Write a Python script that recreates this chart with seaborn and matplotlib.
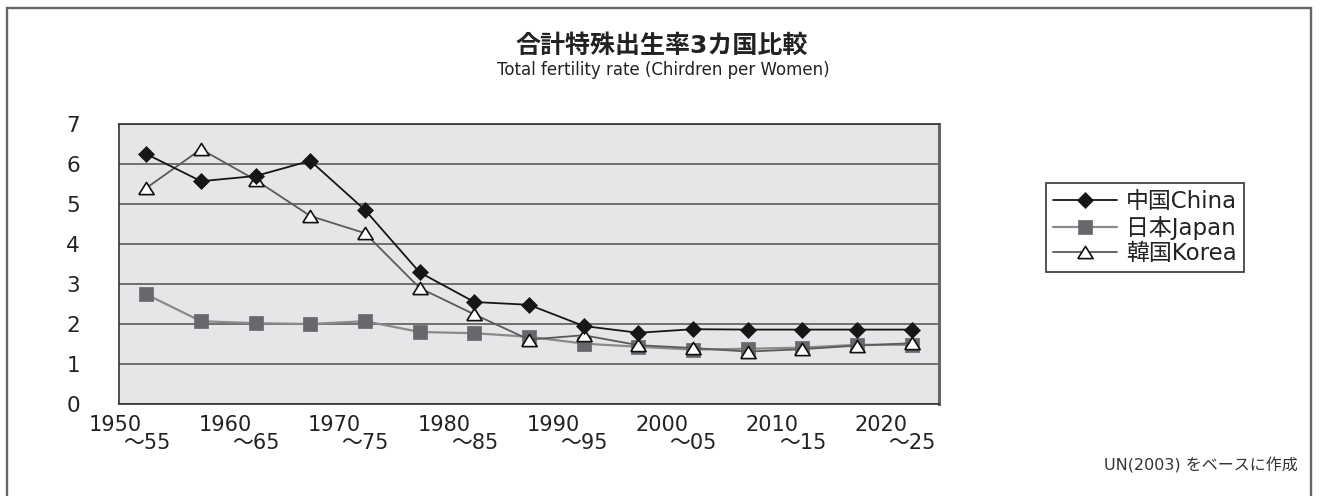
import matplotlib
matplotlib.use("Agg")
import matplotlib.pyplot as plt
import matplotlib.transforms as mtransforms
from matplotlib.patches import Rectangle
import numpy as np
import pandas as pd
import seaborn as sns

# Five-year periods (start year) and total fertility rate per period
period_start = [1950, 1955, 1960, 1965, 1970, 1975, 1980, 1985,
                1990, 1995, 2000, 2005, 2010, 2015, 2020]
china = [6.25, 5.57, 5.70, 6.08, 4.85, 3.29, 2.55, 2.48,
         1.95, 1.78, 1.87, 1.86, 1.86, 1.86, 1.86]
japan = [2.74, 2.07, 2.02, 2.00, 2.07, 1.80, 1.77, 1.68,
         1.51, 1.43, 1.36, 1.38, 1.41, 1.48, 1.48]
korea = [5.40, 6.37, 5.60, 4.70, 4.27, 2.90, 2.24, 1.61,
         1.72, 1.47, 1.40, 1.31, 1.37, 1.46, 1.52]

series_names = ["中国China", "日本Japan", "韓国Korea"]
decade_labels = ["1950", "1960", "1970", "1980", "1990", "2000", "2010", "2020"]
decade_values = [1950, 1960, 1970, 1980, 1990, 2000, 2010, 2020]
period_end_labels = ["～55", "～65", "～75", "～85", "～95", "～05", "～15", "～25"]
y_ticks = [0, 1, 2, 3, 4, 5, 6, 7]

title_text = "合計特殊出生率3カ国比較"
subtitle_text = "Total fertility rate (Chirdren per Women)"
source_text = "UN(2003) をベースに作成"

sns.set_style("white")
plt.rcParams["font.family"] = ["DejaVu Sans", "Noto Sans CJK JP"]
plt.rcParams["text.color"] = "#222222"

W, H = 1320, 496
fig = plt.figure(figsize=(W / 100, H / 100), dpi=100)
ax = fig.add_axes([119 / W, 1 - 404 / H, (939 - 119) / W, (404 - 124) / H])
ax.set_facecolor("#e5e6e8")

mid = [p + 2.5 for p in period_start]
df = pd.DataFrame({
    "period": mid * 3,
    "tfr": china + japan + korea,
    "country": np.repeat(series_names, len(mid)),
})

tri = [(-1, -0.8), (1, -0.8), (0, 0.8), (-1, -0.8)]
styles = {
    "日本Japan": dict(color="#8a8a8a", lw=1.6, marker="s", markersize=10.5,
                    markerfacecolor="#68686c", markeredgecolor="#68686c",
                    markeredgewidth=0.5),
    "韓国Korea": dict(color="#5a5a5a", lw=1.3, marker=tri, markersize=11,
                    markerfacecolor="white", markeredgecolor="#111111",
                    markeredgewidth=1.2),
    "中国China": dict(color="#161616", lw=1.3, marker="D", markersize=7.8,
                    markerfacecolor="#161616", markeredgecolor="#161616",
                    markeredgewidth=0.5),
}

handles = {}
for name in ["日本Japan", "韓国Korea", "中国China"]:
    sub = df[df["country"] == name]
    sns.lineplot(data=sub, x="period", y="tfr", ax=ax, label=name,
                 errorbar=None, **styles[name])
    handles[name] = ax.lines[-1]

ax.set_xlim(1950, 2025)
ax.set_ylim(0, 7)
ax.set_xlabel("")
ax.set_ylabel("")

ax.set_xticks(np.arange(1950, 2026, 5))
ax.set_xticklabels([])
ax.set_yticks(y_ticks)
ax.set_yticklabels([str(v) for v in y_ticks], fontsize=15.5)
ax.tick_params(axis="x", direction="in", length=6, width=1.1, color="#333333")
ax.tick_params(axis="y", direction="in", length=9, width=1.3, color="#333333",
               pad=28, labelcolor="#222222")
ax.yaxis.grid(True, color="#4f4f4f", lw=1.1)
ax.xaxis.grid(False)
ax.set_axisbelow(True)

for side in ["left", "top", "bottom"]:
    ax.spines[side].set_color("#333333")
    ax.spines[side].set_linewidth(1.2)
ax.spines["right"].set_color("#666666")
ax.spines["right"].set_linewidth(2.2)

# Two-line period labels below the axis
xt = mtransforms.blended_transform_factory(ax.transData, fig.transFigure)
for val, lab, end in zip(decade_values, decade_labels, period_end_labels):
    ax.text(val - 0.3, 1 - 425 / H, lab, transform=xt, ha="center",
            va="center", fontsize=15)
    ax.text(val + 2.5, 1 - 443 / H, end, transform=xt, ha="center",
            va="center", fontsize=15)

leg = ax.legend([handles[n] for n in series_names], series_names,
                loc="upper left", bbox_to_anchor=(1046 / W, 1 - 183 / H),
                bbox_transform=fig.transFigure, borderaxespad=0,
                frameon=True, fancybox=False, framealpha=1, edgecolor="#444444",
                fontsize=16.5, handlelength=2.8, handletextpad=0.4,
                borderpad=0.3, labelspacing=0.12)
leg.get_frame().set_linewidth(1.3)

fig.text(662 / W, 1 - 46 / H, title_text, ha="center", va="center",
         fontsize=18, fontweight="bold")
fig.text(663 / W, 1 - 70 / H, subtitle_text, ha="center", va="center",
         fontsize=12)
fig.text(1298 / W, 1 - 465 / H, source_text, ha="right", va="center",
         fontsize=11.5, color="#333333")

fig.add_artist(Rectangle((7 / W, -0.05), (1311 - 7) / W, 0.05 + 1 - 8 / H,
                         transform=fig.transFigure, fill=False,
                         edgecolor="#666666", lw=1.7, clip_on=False))

fig.savefig("out.png", dpi=100)
